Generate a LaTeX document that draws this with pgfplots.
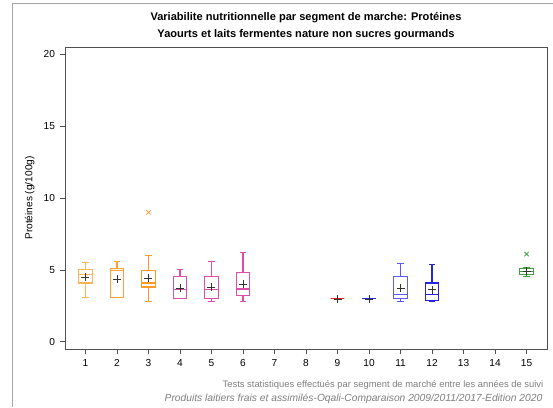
\documentclass[border=0pt]{standalone}
\usepackage{pgfplots}
\pgfplotsset{compat=1.18}
\usepgfplotslibrary{statistics}
\usepackage{fontspec}
\setmainfont{Liberation Sans}
\definecolor{or1}{HTML}{FFB454}
\definecolor{or2}{HTML}{FFA235}
\definecolor{or3}{HTML}{FF9A2A}
\definecolor{pk}{HTML}{DD4DAA}
\definecolor{rd}{HTML}{E02020}
\definecolor{bl1}{HTML}{2A2AE0}
\definecolor{bl2}{HTML}{5A5AFF}
\definecolor{bl3}{HTML}{2525DD}
\definecolor{gr}{HTML}{40A040}
\definecolor{axgray}{HTML}{505050}
\newcommand{\bx}[7]{% pos, color, lw, lq, med, uq, uw
  \addplot[#2, line width=0.8pt, solid, boxplot prepared={draw position=#1,
    lower whisker=#3, lower quartile=#4, median=#5, upper quartile=#6, upper whisker=#7,
    box extend=0.44, whisker extend=0.2, draw direction=y}] coordinates {};
}
\begin{document}
\begin{tikzpicture}
\begin{scope}[x=0.75pt,y=0.75pt]
\path[use as bounding box, fill=white] (0,0) rectangle (553,407);
\draw[gray!70, line width=0.6pt] (12,0) -- (12,404) -- (553,404);
\node[font=\fontsize{8.3}{10}\selectfont\bfseries] at (306,389) {Variabilite nutritionnelle par segment de marche: Protéines};
\node[font=\fontsize{8.3}{10}\selectfont\bfseries] at (306,372) {Yaourts et laits fermentes nature non sucres gourmands};
\node[anchor=east, text=gray, font=\fontsize{7.05}{9}\selectfont] at (548,22) {Tests statistiques effectués par segment de marché entre les années de suivi};
\node[anchor=east, text=gray, font=\fontsize{7.7}{9}\selectfont\itshape] at (547,8) {Produits laitiers frais et assimilés-Oqali-Comparaison 2009/2011/2017-Edition 2020};
\end{scope}
\begin{axis}[
  at={(48.75pt,43.5pt)}, anchor=south west, scale only axis,
  width=361.5pt, height=226.5pt,
  xmin=0.35, xmax=15.65, ymin=-0.5, ymax=20.5,
  xtick={1,...,15}, ytick={0,5,10,15,20},
  tick align=outside, tick pos=left,
  major tick length=4pt,
  axis line style={axgray, line width=0.6pt},
  every tick/.style={axgray, line width=0.6pt},
  tick label style={font=\fontsize{7.6}{9}\selectfont},
  /pgf/number format/assume math mode=true,
  ylabel={Protéines (g/100g)},
  ylabel style={font=\fontsize{7.6}{9}\selectfont},
  clip=false,
]
\bx{1}{or1}{3.09}{4.09}{4.70}{5.00}{5.50}
\bx{2}{or2}{3.09}{3.09}{4.95}{5.13}{5.60}
\bx{3}{or3}{2.81}{3.81}{4.09}{4.97}{6.01}
\bx{4}{pk}{3.00}{3.00}{3.62}{4.51}{5.02}
\bx{5}{pk}{2.81}{3.00}{3.62}{4.51}{5.60}
\bx{6}{pk}{2.81}{3.23}{3.67}{4.79}{6.18}
\bx{9}{rd}{2.98}{2.98}{2.98}{2.98}{2.98}
\bx{10}{bl1}{2.98}{2.98}{2.98}{2.98}{2.98}
\bx{11}{bl2}{2.81}{3.00}{3.28}{4.51}{5.44}
\bx{12}{bl3}{2.81}{2.88}{3.32}{4.09}{5.37}
\bx{15}{gr}{4.55}{4.65}{4.90}{5.10}{5.15}
% outliers
\addplot[only marks, mark=x, mark size=2.3pt, or3, line width=0.6pt] coordinates {(3,9.0)};
\addplot[only marks, mark=x, mark size=2.3pt, gr, line width=0.6pt] coordinates {(15,6.1)};
% means
\addplot[only marks, mark=+, mark size=3pt, black!80, line width=0.6pt] coordinates {
(1,4.48) (2,4.37) (3,4.44) (4,3.74) (5,3.78) (6,4.02) (9,2.98) (10,2.98) (11,3.74) (12,3.62) (15,4.90)};
\end{axis}
\end{tikzpicture}
\end{document}
